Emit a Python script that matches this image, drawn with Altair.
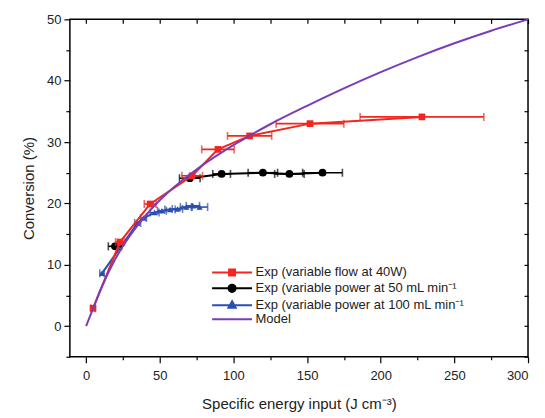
import altair as alt
import pandas as pd

series_names = [
    "Exp (variable flow at 40W)",
    "Exp (variable power at 50 mL min⁻¹",
    "Exp (variable power at 100 mL min⁻¹",
    "Model",
]
colors = ["#F0261F", "#000000", "#2B4FB0", "#7A3DB8"]

red_x = [4.7, 23, 43.5, 72, 89.5, 111, 152, 228]
red_y = [2.9, 13.7, 19.9, 24.5, 28.8, 31.0, 33.0, 34.1]
red_err = [1.5, 3, 4, 7, 11, 15, 23, 42]

black_x = [19.6, 70.4, 92, 120, 138, 160.5]
black_y = [13.0, 24.1, 24.8, 25.0, 24.8, 25.0]
black_err = [4.5, 7, 6, 10, 10, 13.5]
black_seg = [0, 1, 1, 1, 1, 1]

blue_x = [10.8, 35, 39, 46.5, 51.5, 57, 62, 68, 72.5, 77]
blue_y = [8.6, 16.8, 17.6, 18.5, 18.8, 19.0, 19.1, 19.4, 19.6, 19.4]
blue_err = [1.5, 2, 2, 3, 3, 3.5, 3.5, 4, 4.5, 5.5]

model_x = [0, 5, 10, 20, 30, 40, 50, 60, 70, 80, 90, 100, 110, 125, 150, 175, 200, 225, 250, 275, 300]
model_y = [0, 3.0, 6.0, 11.0, 14.8, 17.9, 20.5, 22.7, 24.6, 26.4, 28.0, 29.5, 30.9, 32.9, 35.9, 38.75, 41.4, 43.85, 46.1, 48.15, 50.0]

x_ticks = list(range(0, 301, 25))
y_ticks = list(range(-5, 51, 5))

FONT = "Liberation Sans"


def exp_df(xs, ys, errs, seg=None):
    return pd.DataFrame({
        "x": xs, "y": ys,
        "lo": [a - e for a, e in zip(xs, errs)],
        "hi": [a + e for a, e in zip(xs, errs)],
        "seg": seg if seg is not None else [0] * len(xs),
    })


xscale = alt.Scale(domain=[-11, 300], nice=False, zero=False)
yscale = alt.Scale(domain=[-5, 50], nice=False, zero=False)

model_df = pd.DataFrame({"x": model_x, "y": model_y})

axes_main = alt.Chart(model_df).mark_line(opacity=0).encode(
    x=alt.X("x:Q", scale=xscale, title="Specific energy input (J cm⁻³)",
            axis=alt.Axis(orient="bottom", values=x_ticks,
                          labelExpr="datum.value % 50 === 0 ? datum.label : ''",
                          tickSize={"condition": {"test": "datum.value % 50 === 0", "value": 6}, "value": 3},
                          labelPadding=7, titlePadding=14)),
    y=alt.Y("y:Q", scale=yscale, title="Conversion (%)",
            axis=alt.Axis(orient="left", values=y_ticks,
                          labelExpr="datum.value % 10 === 0 ? datum.label : ''",
                          tickSize={"condition": {"test": "datum.value % 10 === 0", "value": 6}, "value": 4},
                          labelPadding=3, titlePadding=10)),
)

axes_mirror = alt.Chart(model_df).mark_line(opacity=0).encode(
    x=alt.X("x:Q", scale=xscale, title=None,
            axis=alt.Axis(orient="top", values=x_ticks, labels=False, tickSize=4, offset=-4)),
    y=alt.Y("y:Q", scale=yscale, title=None,
            axis=alt.Axis(orient="right", values=y_ticks, labels=False, tickSize=4, offset=-4)),
)


def exp_layers(df, color, shape, size):
    base = alt.Chart(df)
    xe = alt.X("x:Q", scale=xscale, axis=None)
    ye = alt.Y("y:Q", scale=yscale, axis=None)
    bars = base.mark_rule(color=color, strokeWidth=1.6).encode(
        x=alt.X("lo:Q", scale=xscale, axis=None), x2="hi:Q", y=ye)
    cap_lo = base.mark_tick(color=color, orient="vertical", size=8, thickness=1.6).encode(
        x=alt.X("lo:Q", scale=xscale, axis=None), y=ye)
    cap_hi = base.mark_tick(color=color, orient="vertical", size=8, thickness=1.6).encode(
        x=alt.X("hi:Q", scale=xscale, axis=None), y=ye)
    line = base.mark_line(color=color, strokeWidth=2).encode(x=xe, y=ye, detail="seg:N")
    pts = base.mark_point(color=color, shape=shape, filled=True, size=size, opacity=1).encode(x=xe, y=ye)
    return [bars, cap_lo, cap_hi, line, pts]


layers = [axes_main, axes_mirror]
layers += exp_layers(exp_df(blue_x, blue_y, blue_err), colors[2], "triangle-up", 40)
layers += exp_layers(exp_df(black_x, black_y, black_err, black_seg), colors[1], "circle", 60)
layers += exp_layers(exp_df(red_x, red_y, red_err), colors[0], "square", 45)

model_line = alt.Chart(model_df).mark_line(color=colors[3], strokeWidth=2, interpolate="monotone").encode(
    x=alt.X("x:Q", scale=xscale, axis=None), y=alt.Y("y:Q", scale=yscale, axis=None))
layers.append(model_line)

line_p = "M-5,0H5"
legend_paths = [
    line_p + "M-0.75,-0.75H0.75V0.75H-0.75ZM-0.35,-0.35H0.35V0.35H-0.35Z",
    line_p + "M-0.9,0A0.9,0.9,0,1,0,0.9,0A0.9,0.9,0,1,0,-0.9,0ZM-0.45,0A0.45,0.45,0,1,0,0.45,0A0.45,0.45,0,1,0,-0.45,0Z",
    line_p + "M0,-1L0.9,0.6H-0.9ZM0,-0.4L0.4,0.3H-0.4Z",
    line_p,
]
legend_df = pd.DataFrame({"series": series_names})
legend_layer = alt.Chart(legend_df).mark_point(filled=False, opacity=0).encode(
    color=alt.Color("series:N", scale=alt.Scale(domain=series_names, range=colors),
                    legend=alt.Legend(title=None, orient="none", legendX=156, legendY=247,
                                      symbolSize=64, symbolStrokeWidth=2, symbolOpacity=1,
                                      labelOffset=17, labelFontSize=13, labelFont=FONT,
                                      labelColor="#222", rowPadding=0, labelLimit=400)),
    shape=alt.Shape("series:N", scale=alt.Scale(domain=series_names, range=legend_paths), legend=None),
)
layers.append(legend_layer)

chart = alt.layer(*layers).resolve_axis(x="independent", y="independent").properties(
    width=459, height=338,
    padding={"left": 13, "top": 5, "right": 5, "bottom": 5},
).configure_view(stroke="#000", strokeWidth=1.5).configure_axis(
    grid=False, domain=False, tickColor="#000", tickWidth=1.2,
    labelFont=FONT, labelFontSize=13, labelColor="#222",
    titleFont=FONT, titleFontSize=15, titleFontWeight="normal", titleColor="#222",
)

chart.save("out.html", embed_options={"renderer": "svg", "actions": False})
